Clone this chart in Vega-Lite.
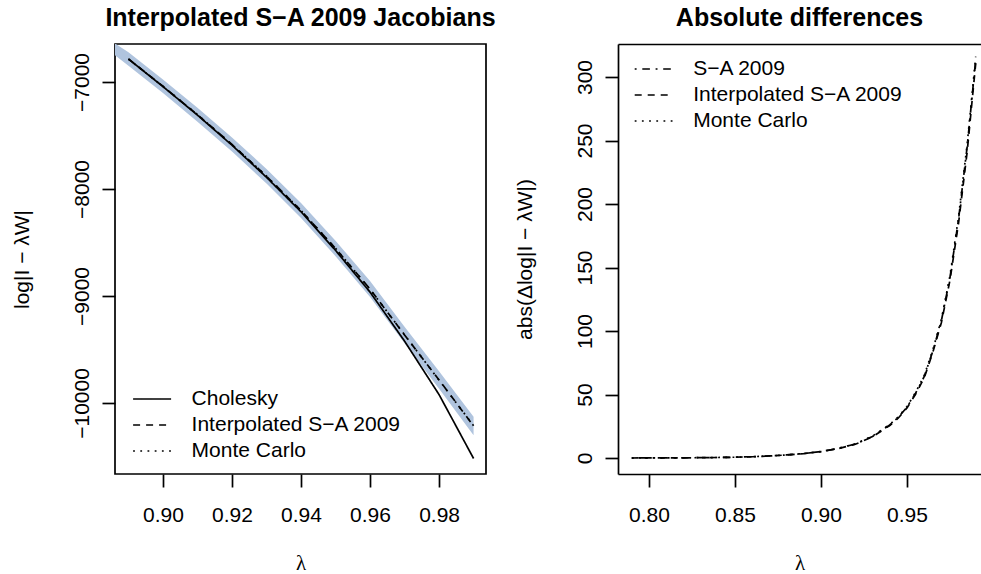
{
  "$schema": "https://vega.github.io/schema/vega-lite/v6.json",
  "padding": {"left": 10, "top": 5, "right": 0, "bottom": 0},
  "autosize": {"type": "pad"},
  "spacing": 132,
  "bounds": "flush",
  "datasets": {
    "band": [
      {"lambda": 0.8861, "lo": -6750, "hi": -6640},
      {"lambda": 0.89, "lo": -6848, "hi": -6722},
      {"lambda": 0.90, "lo": -7104, "hi": -6976},
      {"lambda": 0.91, "lo": -7371, "hi": -7241},
      {"lambda": 0.92, "lo": -7650, "hi": -7518},
      {"lambda": 0.93, "lo": -7949, "hi": -7813},
      {"lambda": 0.94, "lo": -8271, "hi": -8131},
      {"lambda": 0.95, "lo": -8628, "hi": -8484},
      {"lambda": 0.96, "lo": -9010, "hi": -8860},
      {"lambda": 0.97, "lo": -9443, "hi": -9287},
      {"lambda": 0.98, "lo": -9867, "hi": -9703},
      {"lambda": 0.99, "lo": -10301, "hi": -10129}
    ],
    "left": [
      {"lambda": 0.89, "value": -6785, "series": "Cholesky"},
      {"lambda": 0.90, "value": -7043, "series": "Cholesky"},
      {"lambda": 0.91, "value": -7310, "series": "Cholesky"},
      {"lambda": 0.92, "value": -7591, "series": "Cholesky"},
      {"lambda": 0.93, "value": -7891, "series": "Cholesky"},
      {"lambda": 0.94, "value": -8213, "series": "Cholesky"},
      {"lambda": 0.95, "value": -8574, "series": "Cholesky"},
      {"lambda": 0.96, "value": -8964, "series": "Cholesky"},
      {"lambda": 0.97, "value": -9422, "series": "Cholesky"},
      {"lambda": 0.98, "value": -9922, "series": "Cholesky"},
      {"lambda": 0.99, "value": -10519, "series": "Cholesky"},
      {"lambda": 0.89, "value": -6785, "series": "Interpolated S−A 2009"},
      {"lambda": 0.90, "value": -7040, "series": "Interpolated S−A 2009"},
      {"lambda": 0.91, "value": -7306, "series": "Interpolated S−A 2009"},
      {"lambda": 0.92, "value": -7584, "series": "Interpolated S−A 2009"},
      {"lambda": 0.93, "value": -7881, "series": "Interpolated S−A 2009"},
      {"lambda": 0.94, "value": -8201, "series": "Interpolated S−A 2009"},
      {"lambda": 0.95, "value": -8556, "series": "Interpolated S−A 2009"},
      {"lambda": 0.96, "value": -8935, "series": "Interpolated S−A 2009"},
      {"lambda": 0.97, "value": -9365, "series": "Interpolated S−A 2009"},
      {"lambda": 0.98, "value": -9785, "series": "Interpolated S−A 2009"},
      {"lambda": 0.99, "value": -10215, "series": "Interpolated S−A 2009"},
      {"lambda": 0.89, "value": -6787, "series": "Monte Carlo"},
      {"lambda": 0.90, "value": -7041, "series": "Monte Carlo"},
      {"lambda": 0.91, "value": -7305, "series": "Monte Carlo"},
      {"lambda": 0.92, "value": -7585, "series": "Monte Carlo"},
      {"lambda": 0.93, "value": -7880, "series": "Monte Carlo"},
      {"lambda": 0.94, "value": -8202, "series": "Monte Carlo"},
      {"lambda": 0.95, "value": -8555, "series": "Monte Carlo"},
      {"lambda": 0.96, "value": -8937, "series": "Monte Carlo"},
      {"lambda": 0.97, "value": -9363, "series": "Monte Carlo"},
      {"lambda": 0.98, "value": -9787, "series": "Monte Carlo"},
      {"lambda": 0.99, "value": -10213, "series": "Monte Carlo"}
    ],
    "right": [
      {"lambda": 0.79, "value": 0, "series": "S−A 2009"},
      {"lambda": 0.80, "value": 0.05, "series": "S−A 2009"},
      {"lambda": 0.81, "value": 0.1, "series": "S−A 2009"},
      {"lambda": 0.82, "value": 0.15, "series": "S−A 2009"},
      {"lambda": 0.83, "value": 0.25, "series": "S−A 2009"},
      {"lambda": 0.84, "value": 0.4, "series": "S−A 2009"},
      {"lambda": 0.85, "value": 0.6, "series": "S−A 2009"},
      {"lambda": 0.86, "value": 1.0, "series": "S−A 2009"},
      {"lambda": 0.87, "value": 1.6, "series": "S−A 2009"},
      {"lambda": 0.88, "value": 2.4, "series": "S−A 2009"},
      {"lambda": 0.89, "value": 3.5, "series": "S−A 2009"},
      {"lambda": 0.90, "value": 5, "series": "S−A 2009"},
      {"lambda": 0.91, "value": 7.5, "series": "S−A 2009"},
      {"lambda": 0.92, "value": 11, "series": "S−A 2009"},
      {"lambda": 0.93, "value": 17, "series": "S−A 2009"},
      {"lambda": 0.94, "value": 26, "series": "S−A 2009"},
      {"lambda": 0.945, "value": 32, "series": "S−A 2009"},
      {"lambda": 0.95, "value": 40, "series": "S−A 2009"},
      {"lambda": 0.955, "value": 51, "series": "S−A 2009"},
      {"lambda": 0.96, "value": 64, "series": "S−A 2009"},
      {"lambda": 0.965, "value": 84, "series": "S−A 2009"},
      {"lambda": 0.97, "value": 108, "series": "S−A 2009"},
      {"lambda": 0.975, "value": 142, "series": "S−A 2009"},
      {"lambda": 0.98, "value": 188, "series": "S−A 2009"},
      {"lambda": 0.985, "value": 245, "series": "S−A 2009"},
      {"lambda": 0.99, "value": 314, "series": "S−A 2009"},
      {"lambda": 0.79, "value": 0, "series": "Interpolated S−A 2009"},
      {"lambda": 0.80, "value": 0.05, "series": "Interpolated S−A 2009"},
      {"lambda": 0.81, "value": 0.1, "series": "Interpolated S−A 2009"},
      {"lambda": 0.82, "value": 0.15, "series": "Interpolated S−A 2009"},
      {"lambda": 0.83, "value": 0.25, "series": "Interpolated S−A 2009"},
      {"lambda": 0.84, "value": 0.4, "series": "Interpolated S−A 2009"},
      {"lambda": 0.85, "value": 0.6, "series": "Interpolated S−A 2009"},
      {"lambda": 0.86, "value": 1.0, "series": "Interpolated S−A 2009"},
      {"lambda": 0.87, "value": 1.6, "series": "Interpolated S−A 2009"},
      {"lambda": 0.88, "value": 2.4, "series": "Interpolated S−A 2009"},
      {"lambda": 0.89, "value": 3.5, "series": "Interpolated S−A 2009"},
      {"lambda": 0.90, "value": 5, "series": "Interpolated S−A 2009"},
      {"lambda": 0.91, "value": 7.4, "series": "Interpolated S−A 2009"},
      {"lambda": 0.92, "value": 10.8, "series": "Interpolated S−A 2009"},
      {"lambda": 0.93, "value": 16.7, "series": "Interpolated S−A 2009"},
      {"lambda": 0.94, "value": 25.6, "series": "Interpolated S−A 2009"},
      {"lambda": 0.945, "value": 31.5, "series": "Interpolated S−A 2009"},
      {"lambda": 0.95, "value": 39.4, "series": "Interpolated S−A 2009"},
      {"lambda": 0.955, "value": 50.2, "series": "Interpolated S−A 2009"},
      {"lambda": 0.96, "value": 63, "series": "Interpolated S−A 2009"},
      {"lambda": 0.965, "value": 83, "series": "Interpolated S−A 2009"},
      {"lambda": 0.97, "value": 106.5, "series": "Interpolated S−A 2009"},
      {"lambda": 0.975, "value": 140, "series": "Interpolated S−A 2009"},
      {"lambda": 0.98, "value": 185, "series": "Interpolated S−A 2009"},
      {"lambda": 0.985, "value": 241, "series": "Interpolated S−A 2009"},
      {"lambda": 0.99, "value": 311, "series": "Interpolated S−A 2009"},
      {"lambda": 0.79, "value": 0, "series": "Monte Carlo"},
      {"lambda": 0.80, "value": 0.05, "series": "Monte Carlo"},
      {"lambda": 0.81, "value": 0.1, "series": "Monte Carlo"},
      {"lambda": 0.82, "value": 0.15, "series": "Monte Carlo"},
      {"lambda": 0.83, "value": 0.25, "series": "Monte Carlo"},
      {"lambda": 0.84, "value": 0.4, "series": "Monte Carlo"},
      {"lambda": 0.85, "value": 0.6, "series": "Monte Carlo"},
      {"lambda": 0.86, "value": 1.0, "series": "Monte Carlo"},
      {"lambda": 0.87, "value": 1.6, "series": "Monte Carlo"},
      {"lambda": 0.88, "value": 2.4, "series": "Monte Carlo"},
      {"lambda": 0.89, "value": 3.5, "series": "Monte Carlo"},
      {"lambda": 0.90, "value": 5.1, "series": "Monte Carlo"},
      {"lambda": 0.91, "value": 7.6, "series": "Monte Carlo"},
      {"lambda": 0.92, "value": 11.2, "series": "Monte Carlo"},
      {"lambda": 0.93, "value": 17.3, "series": "Monte Carlo"},
      {"lambda": 0.94, "value": 26.4, "series": "Monte Carlo"},
      {"lambda": 0.945, "value": 32.5, "series": "Monte Carlo"},
      {"lambda": 0.95, "value": 40.5, "series": "Monte Carlo"},
      {"lambda": 0.955, "value": 51.6, "series": "Monte Carlo"},
      {"lambda": 0.96, "value": 64.8, "series": "Monte Carlo"},
      {"lambda": 0.965, "value": 85, "series": "Monte Carlo"},
      {"lambda": 0.97, "value": 109, "series": "Monte Carlo"},
      {"lambda": 0.975, "value": 143.5, "series": "Monte Carlo"},
      {"lambda": 0.98, "value": 190, "series": "Monte Carlo"},
      {"lambda": 0.985, "value": 247, "series": "Monte Carlo"},
      {"lambda": 0.99, "value": 316, "series": "Monte Carlo"}
    ]
  },
  "hconcat": [
    {
      "title": {"text": "Interpolated S−A 2009 Jacobians", "fontSize": 25, "fontWeight": "bold", "anchor": "middle", "baseline": "alphabetic", "offset": -7},
      "width": 371,
      "height": 430,
      "view": {"stroke": "black", "strokeWidth": 1.7},
      "layer": [
        {
          "data": {"name": "band"},
          "mark": {"type": "area", "clip": true, "color": "#B0C4DE", "opacity": 1},
          "encoding": {
            "x": {"field": "lambda", "type": "quantitative", "scale": {"domain": [0.8861, 0.9936], "nice": false, "zero": false},
              "axis": {"values": [0.9, 0.92, 0.94, 0.96, 0.98], "format": ".2f", "title": "λ", "titleFont": "Liberation Serif", "titleY": 95, "titleBaseline": "alphabetic", "labelPadding": 17, "domain": false, "labelFlush": false, "labelOverlap": false}},
            "y": {"field": "lo", "type": "quantitative", "scale": {"domain": [-10664, -6645], "nice": false, "zero": false},
              "axis": {"values": [-7000, -8000, -9000, -10000], "format": "d", "labelAngle": 270, "labelAlign": "center", "labelBaseline": "bottom", "labelPadding": 10, "title": "log|I − λW|", "titleAngle": 270, "titleX": -87, "titleY": 215, "titleAlign": "center", "titleBaseline": "alphabetic", "domain": false, "labelOverlap": false}},
            "y2": {"field": "hi"}
          }
        },
        {
          "data": {"name": "left"},
          "mark": {"type": "line", "clip": true, "color": "black", "strokeWidth": 1.7},
          "encoding": {
            "x": {"field": "lambda", "type": "quantitative"},
            "y": {"field": "value", "type": "quantitative"},
            "strokeDash": {"field": "series", "type": "nominal",
              "scale": {"domain": ["Cholesky", "Interpolated S−A 2009", "Monte Carlo"], "range": [[1, 0], [7, 6], [1.8, 5.4]]},
              "legend": {"orient": "none", "legendX": 26.6, "legendY": 344.5, "title": null, "symbolType": "M-2,0H2", "symbolSize": 361, "symbolStrokeWidth": 1.7, "symbolStrokeColor": "black", "labelOffset": 29, "rowPadding": 4, "padding": 0, "labelFontSize": 21, "labelColor": "black", "labelLimit": 400}}
          }
        }
      ]
    },
    {
      "title": {"text": "Absolute differences", "fontSize": 25, "fontWeight": "bold", "anchor": "middle", "baseline": "alphabetic", "offset": -7},
      "width": 363,
      "height": 430,
      "view": {"stroke": null},
      "data": {"name": "right"},
      "layer": [
        {
          "mark": {"type": "line", "clip": true, "color": "black", "strokeWidth": 1.7},
          "encoding": {
            "x": {"field": "lambda", "type": "quantitative", "scale": {"domain": [0.782, 0.99305], "nice": false, "zero": false},
              "axis": {"orient": "bottom", "values": [0.8, 0.85, 0.9, 0.95], "format": ".2f", "title": "λ", "titleFont": "Liberation Serif", "titleY": 95, "titleBaseline": "alphabetic", "labelPadding": 17, "domain": true, "labelFlush": false, "labelOverlap": false}},
            "y": {"field": "value", "type": "quantitative", "scale": {"domain": [-12.6, 326], "nice": false, "zero": false},
              "axis": {"values": [0, 50, 100, 150, 200, 250, 300], "format": "d", "labelAngle": 270, "labelAlign": "center", "labelBaseline": "bottom", "labelPadding": 10, "title": "abs(Δlog|I − λW|)", "titleAngle": 270, "titleX": -87, "titleY": 215, "titleAlign": "center", "titleBaseline": "alphabetic", "domain": true, "labelOverlap": false}},
            "strokeDash": {"field": "series", "type": "nominal",
              "scale": {"domain": ["S−A 2009", "Interpolated S−A 2009", "Monte Carlo"], "range": [[1.9, 5.7, 7.6, 5.7], [7, 6], [1.8, 5.4]]},
              "legend": {"orient": "none", "legendX": 25.2, "legendY": 14.5, "title": null, "symbolType": "M-2,0H2", "symbolSize": 361, "symbolStrokeWidth": 1.7, "symbolStrokeColor": "black", "labelOffset": 29, "rowPadding": 4, "padding": 0, "labelFontSize": 21, "labelColor": "black", "labelLimit": 400}}
          }
        },
        {
          "mark": {"type": "line", "clip": true, "strokeOpacity": 0},
          "encoding": {
            "x": {"field": "lambda", "type": "quantitative",
              "axis": {"orient": "top", "labels": false, "ticks": false, "title": null, "domain": true, "minExtent": 0, "maxExtent": 0, "offset": 0}},
            "y": {"field": "value", "type": "quantitative"},
            "detail": {"field": "series"}
          }
        }
      ],
      "resolve": {"axis": {"x": "independent"}}
    }
  ],
  "resolve": {"scale": {"strokeDash": "independent"}, "legend": {"strokeDash": "independent"}},
  "config": {
    "font": "Liberation Sans",
    "view": {"stroke": null},
    "axis": {"labelFontSize": 21, "labelColor": "black", "labelFont": "Liberation Sans", "tickColor": "black", "tickWidth": 1.7, "tickSize": 13, "titleFontSize": 21, "titleFontWeight": "normal", "titleColor": "black", "grid": false, "domainColor": "black", "domainWidth": 1.7},
    "title": {"color": "black", "font": "Liberation Sans"},
    "legend": {"labelFont": "Liberation Sans"}
  }
}
